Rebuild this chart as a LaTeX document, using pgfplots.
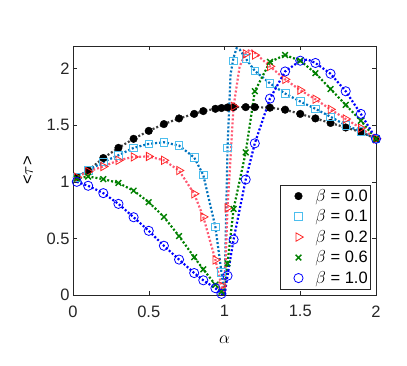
\documentclass[border=0pt]{standalone}
\usepackage{fontspec}
\setmainfont{Liberation Sans}
\usepackage{pgfplots}
\pgfplotsset{compat=1.18}

\definecolor{axgray}{rgb}{0.15,0.15,0.15}
\definecolor{kLine}{rgb}{0.25,0.25,0.25}
\definecolor{cLine}{rgb}{0,0.447,0.741}
\definecolor{cMark}{rgb}{0.30,0.745,0.933}
\definecolor{rLine}{rgb}{1,0.35,0.45}
\definecolor{rMark}{rgb}{1,0.15,0.15}
\definecolor{gLine}{rgb}{0,0.5,0}
\definecolor{bLine}{rgb}{0,0,1}

\newcommand{\fs}{\fontsize{16.5}{19}\selectfont}

\pgfplotsset{
  dl/.style={dash pattern=on 2pt off 2pt, line width=2.2pt, forget plot},
  lm/.style={only marks,
    legend image code/.code={\path[draw=none, fill=none] (0pt,-5pt) rectangle (30pt,5pt);
        \draw[mark repeat=2, mark phase=2, ##1]
        plot coordinates {(0pt,0pt) (18pt,0pt) (30pt,0pt)};}},
}

\begin{document}
\begin{tikzpicture}
\useasboundingbox (-73pt,-71pt) rectangle (334pt,295pt);
\begin{axis}[
    at={(0,0)}, anchor=south west,
    scale only axis,
    width=303pt, height=249pt,
    xmin=0, xmax=2, ymin=0, ymax=2.2,
    xtick={0,0.5,1,1.5,2},
    ytick={0,0.5,1,1.5,2},
    tick align=inside,
    major tick length=4pt,
    axis line style={axgray, line width=0.5pt},
    every tick/.style={axgray, line width=0.5pt},
    tick label style={font=\fs, text=axgray},
    /pgf/number format/assume math mode=true,
    xticklabel style={yshift=-7pt},
    every axis x label/.style={at={(axis description cs:0.5,0)}, anchor=center, yshift=-45pt, font=\fs},
    every axis y label/.style={at={(axis description cs:0,0.5)}, anchor=center, xshift=-45pt, rotate=90, font=\fs},
    xlabel={$\alpha$},
    ylabel={<$\tau$>},
    legend style={at={(0.98,0.024)}, anchor=south east, draw=axgray, fill=white,
        font=\fs, inner xsep=0pt, inner ysep=2pt, row sep=3pt, column sep=3pt},
    legend cell align=left,
    line cap=butt,
]
% ---- lines (theory) ----
\addplot[dl, kLine] coordinates {
 (0,1.0) (0.025,1.04) (0.1,1.10) (0.2,1.21) (0.3,1.30) (0.4,1.38) (0.5,1.45) (0.6,1.51)
 (0.7,1.56) (0.8,1.60) (0.86,1.625) (0.94,1.645) (0.98,1.652) (1.02,1.657) (1.06,1.66)
 (1.14,1.66) (1.2,1.66) (1.3,1.655) (1.4,1.637) (1.5,1.60) (1.6,1.56) (1.7,1.52)
 (1.8,1.48) (1.9,1.44) (2.0,1.38)
};
\addplot[dl, cLine] coordinates {
 (0,1.0) (0.025,1.04) (0.1,1.10) (0.2,1.175) (0.3,1.235) (0.4,1.30) (0.5,1.335) (0.6,1.35)
 (0.7,1.32) (0.8,1.215) (0.86,1.06) (0.94,0.60) (0.98,0.20) (1.0,0.0) (1.02,1.30)
 (1.04,1.95) (1.06,2.10) (1.08,2.18) (1.10,2.17) (1.14,2.09) (1.2,1.98) (1.3,1.87)
 (1.4,1.78) (1.5,1.71) (1.6,1.645) (1.7,1.575) (1.8,1.50) (1.9,1.445) (2.0,1.38)
};
\addplot[dl, rLine] coordinates {
 (0,1.0) (0.025,1.04) (0.1,1.09) (0.2,1.135) (0.3,1.19) (0.4,1.22) (0.5,1.224) (0.6,1.19)
 (0.7,1.10) (0.8,0.894) (0.86,0.69) (0.94,0.31) (0.98,0.08) (1.0,0.0) (1.02,0.77)
 (1.06,1.667) (1.10,2.02) (1.14,2.14) (1.17,2.17) (1.2,2.14) (1.3,2.02) (1.4,1.905)
 (1.5,1.81) (1.6,1.73) (1.7,1.64) (1.8,1.555) (1.9,1.475) (2.0,1.38)
};
\addplot[dl, gLine] coordinates {
 (0,1.0) (0.025,1.03) (0.1,1.047) (0.2,1.024) (0.3,0.99) (0.4,0.922) (0.5,0.82) (0.6,0.69)
 (0.7,0.52) (0.8,0.334) (0.86,0.227) (0.94,0.09) (0.98,0.03) (1.0,0.0) (1.02,0.28)
 (1.06,0.76) (1.14,1.26) (1.2,1.80) (1.3,2.06) (1.4,2.12) (1.5,2.07) (1.6,1.96)
 (1.7,1.82) (1.8,1.68) (1.9,1.54) (2.0,1.38)
};
\addplot[dl, bLine] coordinates {
 (0,1.01) (0.025,1.0) (0.1,0.965) (0.2,0.90) (0.3,0.805) (0.4,0.687) (0.5,0.567) (0.6,0.435)
 (0.7,0.313) (0.8,0.194) (0.86,0.13) (0.94,0.06) (0.98,0.01) (1.0,0.0) (1.02,0.17)
 (1.06,0.49) (1.14,1.02) (1.2,1.34) (1.3,1.735) (1.4,1.975) (1.5,2.07) (1.55,2.08)
 (1.6,2.05) (1.7,1.955) (1.8,1.80) (1.9,1.60) (2.0,1.38)
};
% ---- markers (simulation) ----
\addplot[lm, mark=*, mark size=3.8pt, black] coordinates {
 (0.025,1.04) (0.1,1.10) (0.2,1.21) (0.3,1.30) (0.4,1.38) (0.5,1.45) (0.6,1.51)
 (0.7,1.56) (0.8,1.60) (0.86,1.625) (0.94,1.645) (0.98,1.652) (1.02,1.657) (1.06,1.66)
 (1.14,1.66) (1.2,1.66) (1.3,1.655) (1.4,1.637) (1.5,1.60) (1.6,1.56) (1.7,1.52)
 (1.8,1.48) (1.9,1.44) (2.0,1.38)
};
\addlegendentry{$\beta$ = 0.0}
\addplot[lm, mark=square, mark size=3.8pt, cMark, mark options={line width=0.8pt}] coordinates {
 (0.025,1.04) (0.1,1.10) (0.2,1.175) (0.3,1.235) (0.4,1.30) (0.5,1.335) (0.6,1.35)
 (0.7,1.32) (0.8,1.215) (0.86,1.06) (0.94,0.60) (0.98,0.20) (1.02,1.30)
 (1.06,2.07) (1.14,2.09) (1.2,1.98) (1.3,1.87)
 (1.4,1.78) (1.5,1.71) (1.6,1.645) (1.7,1.575) (1.8,1.50) (1.9,1.445) (2.0,1.38)
};
\addlegendentry{$\beta$ = 0.1}
\addplot[lm, mark=triangle, mark size=4.8pt, rMark, mark options={rotate=-90, line width=0.8pt}] coordinates {
 (0.025,1.04) (0.1,1.09) (0.2,1.135) (0.3,1.19) (0.4,1.22) (0.5,1.224) (0.6,1.19)
 (0.7,1.10) (0.8,0.894) (0.86,0.69) (0.94,0.31) (0.98,0.08) (1.02,0.77)
 (1.06,1.667) (1.14,2.13) (1.2,2.12) (1.3,2.02) (1.4,1.905)
 (1.5,1.81) (1.6,1.73) (1.7,1.64) (1.8,1.555) (1.9,1.475) (2.0,1.38)
};
\addlegendentry{$\beta$ = 0.2}
\addplot[lm, mark=x, mark size=4pt, gLine, mark options={line width=1.4pt}] coordinates {
 (0.025,1.03) (0.1,1.047) (0.2,1.024) (0.3,0.99) (0.4,0.922) (0.5,0.82) (0.6,0.69)
 (0.7,0.52) (0.8,0.334) (0.86,0.227) (0.94,0.09) (0.98,0.03) (1.02,0.28)
 (1.06,0.76) (1.14,1.26) (1.2,1.80) (1.3,2.06) (1.4,2.12) (1.5,2.07) (1.6,1.96)
 (1.7,1.82) (1.8,1.68) (1.9,1.54) (2.0,1.38)
};
\addlegendentry{$\beta$ = 0.6}
\addplot[lm, mark=o, mark size=4.6pt, bLine, mark options={line width=0.8pt}] coordinates {
 (0.025,1.0) (0.1,0.965) (0.2,0.90) (0.3,0.805) (0.4,0.687) (0.5,0.567) (0.6,0.435)
 (0.7,0.313) (0.8,0.194) (0.86,0.13) (0.94,0.06) (0.98,0.01) (1.02,0.17)
 (1.06,0.49) (1.14,1.02) (1.2,1.34) (1.3,1.735) (1.4,1.975) (1.5,2.07)
 (1.6,2.05) (1.7,1.955) (1.8,1.80) (1.9,1.60) (2.0,1.38)
};
\addlegendentry{$\beta$ = 1.0}
\end{axis}
\end{tikzpicture}
\end{document}
